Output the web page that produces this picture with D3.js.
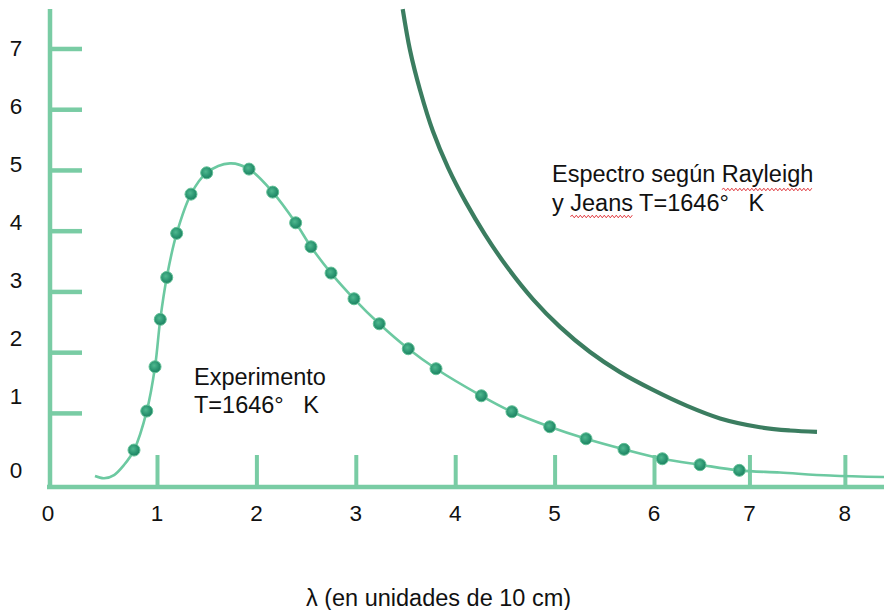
<!DOCTYPE html>
<html>
<head>
<meta charset="utf-8">
<script src="https://cdn.jsdelivr.net/npm/d3@7"></script>
<style>
  html, body { margin: 0; padding: 0; background: #ffffff; }
  svg { display: block; }
  text { font-family: "Liberation Sans", Arial, sans-serif; fill: #111; }
</style>
</head>
<body>
<svg id="chart" width="884" height="610"></svg>
<script>
// ---------- data ----------
const xTickValues = [1, 2, 3, 4, 5, 6, 7, 8];
const xTickLabels = ["0", "1", "2", "3", "4", "5", "6", "7", "8"];
const yTickValues = [1, 2, 3, 4, 5, 6, 7];
const yTickLabels = ["0", "1", "2", "3", "4", "5", "6", "7"];

// experimental points (lambda, intensity)
const expLambda = [0.789, 0.906, 0.982, 1.033, 1.098, 1.198, 1.342, 1.500, 1.926, 2.164,
                   2.395, 2.549, 2.751, 2.982, 3.236, 3.528, 3.807, 4.263, 4.571, 4.951,
                   5.316, 5.698, 6.087, 6.482, 6.894];
const expValue  = [0.388, 1.030, 1.760, 2.540, 3.231, 3.956, 4.602, 4.953, 5.014, 4.635,
                   4.130, 3.735, 3.302, 2.879, 2.467, 2.056, 1.727, 1.282, 1.019, 0.772,
                   0.574, 0.400, 0.245, 0.147, 0.054];

// fitted (Planck) curve through the experiment
const planckLambda = [0.431, 0.514, 0.606, 0.697, 0.789, 0.906, 0.982, 1.033, 1.098, 1.198,
                      1.342, 1.500, 1.734, 1.926, 2.164, 2.395, 2.549, 2.751, 2.982, 3.236,
                      3.528, 3.807, 4.263, 4.571, 4.951, 5.316, 5.698, 6.087, 6.482, 6.894,
                      7.320, 7.844, 8.410];
const planckValue  = [-0.040, -0.077, -0.023, 0.142, 0.388, 1.030, 1.760, 2.540, 3.231, 3.956,
                      4.602, 4.953, 5.108, 5.014, 4.635, 4.130, 3.735, 3.302, 2.879, 2.467,
                      2.056, 1.727, 1.282, 1.019, 0.772, 0.574, 0.400, 0.245, 0.147, 0.054,
                      0.018, -0.031, -0.056];

// Rayleigh-Jeans curve
const rjLambda = [3.472, 3.545, 3.646, 3.777, 3.928, 4.109, 4.300, 4.521, 4.783, 5.054,
                  5.356, 5.658, 5.990, 6.346, 6.692, 7.111, 7.425, 7.708];
const rjValue  = [7.649, 6.976, 6.317, 5.633, 5.040, 4.462, 3.937, 3.405, 2.870, 2.417,
                  2.002, 1.671, 1.378, 1.115, 0.909, 0.764, 0.710, 0.687];

const expLabel = ["Experimento", "T=1646°\u00a0\u00a0\u00a0K"];
const rjLabel  = ["Espectro según Rayleigh", "y Jeans T=1646°\u00a0\u00a0\u00a0K"];
const xTitle = "λ (en unidades de 10 cm)";

// ---------- drawing ----------
const svg = d3.select("#chart");
const axisColor = "#79cca4";
const curveColor = "#6cc9a1";
const rjColor = "#3b7d60";

// the hand-drawn axis of the original is not perfectly even
const x = d3.scaleLinear().domain([0, 1, 6, 8.41]).range([48, 157, 654, 884]);
const y = d3.scaleLinear().domain([-0.22, 7.65]).range([487, 9]);
// tick labels of the original sit slightly off their tick marks
const yLab = d3.scaleLinear().domain([0, 1, 7]).range([469.5, 395.5, 47.7]);

const defs = svg.append("defs");
const grad = defs.append("radialGradient").attr("id", "dot").attr("cx", "42%").attr("cy", "40%").attr("r", "60%");
grad.append("stop").attr("offset", "0%").attr("stop-color", "#4fb88f");
grad.append("stop").attr("offset", "65%").attr("stop-color", "#2a9470");
grad.append("stop").attr("offset", "100%").attr("stop-color", "#1f8262");

// y axis (ticks pointing right, inside)
const yAxis = d3.axisRight(y).tickValues(yTickValues).tickSize(32).tickSizeOuter(0).tickFormat("");
const gy = svg.append("g").attr("transform", "translate(50,0)").call(yAxis);
gy.select(".domain").attr("stroke", axisColor).attr("stroke-width", 4.5).attr("d", `M0,${y(7.65)}V${y(-0.22) + 2}`);
gy.selectAll(".tick line").attr("stroke", axisColor).attr("stroke-width", 4.5);

// x axis (ticks pointing up)
const xAxis = d3.axisTop(x).tickValues(xTickValues).tickSize(32).tickSizeOuter(0).tickFormat("");
const gx = svg.append("g").attr("transform", `translate(0,${y(-0.22)})`).call(xAxis);
gx.select(".domain").attr("stroke", axisColor).attr("stroke-width", 4.5).attr("d", `M${x(0) - 1},0H${x(8.41)}`);
gx.selectAll(".tick line").attr("stroke", axisColor).attr("stroke-width", 4);

// tick labels
svg.append("g").selectAll("text").data(yTickLabels).join("text")
  .attr("x", 16).attr("y", (d, i) => yLab(i)).attr("dy", "0.36em")
  .attr("text-anchor", "middle").attr("font-size", 22.5).text(d => d);
svg.append("g").selectAll("text").data(xTickLabels).join("text")
  .attr("x", (d, i) => x(i)).attr("y", 521)
  .attr("text-anchor", "middle").attr("font-size", 22.5).text(d => d);

// axis title
svg.append("text").attr("x", 438.5).attr("y", 606).attr("text-anchor", "middle")
  .attr("font-size", 23.5).text(xTitle);

// Rayleigh-Jeans curve
const rjData = rjLambda.map((l, i) => [l, rjValue[i]]);
svg.append("path").datum(rjData)
  .attr("d", d3.line().x(d => x(d[0])).y(d => y(d[1])).curve(d3.curveCatmullRom.alpha(0.5)))
  .attr("fill", "none").attr("stroke", rjColor).attr("stroke-width", 4.2);

// Planck curve
const pData = planckLambda.map((l, i) => [l, planckValue[i]]);
svg.append("path").datum(pData)
  .attr("d", d3.line().x(d => x(d[0])).y(d => y(d[1])).curve(d3.curveCatmullRom.alpha(0.5)))
  .attr("fill", "none").attr("stroke", curveColor).attr("stroke-width", 2.6);

// experimental points
const eData = expLambda.map((l, i) => [l, expValue[i]]);
svg.append("g").selectAll("circle").data(eData).join("circle")
  .attr("cx", d => x(d[0])).attr("cy", d => y(d[1])).attr("r", 6)
  .attr("fill", "url(#dot)").attr("stroke", "#62c197").attr("stroke-width", 1);

// annotations
function block(lines, x0, y0, lh) {
  const g = svg.append("g");
  return lines.map((t, i) => g.append("text").attr("x", x0).attr("y", y0 + i * lh)
    .attr("font-size", 23.5).text(t));
}
block(expLabel, 194, 384.5, 28.5);
const rjTexts = block(rjLabel, 552, 182, 28.5);

// spell-check style wavy underline
function wavy(textSel, word, yOff) {
  const node = textSel.node();
  const s = node.textContent;
  const idx = s.indexOf(word);
  const x0 = +textSel.attr("x") + node.getSubStringLength(0, idx);
  const w = node.getSubStringLength(idx, word.length);
  const y0 = +textSel.attr("y") + yOff;
  let d = `M${x0},${y0}`;
  const step = 2;
  for (let k = 1, xx = x0 + step; xx <= x0 + w; k++, xx += step) {
    d += `L${xx},${y0 + (k % 2 ? -1.3 : 1.3)}`;
  }
  svg.append("path").attr("d", d).attr("fill", "none").attr("stroke", "#e0393e").attr("stroke-width", 1);
}
wavy(rjTexts[0], "Rayleigh", 7.5);
wavy(rjTexts[1], "Jeans", 6);
</script>
</body>
</html>
